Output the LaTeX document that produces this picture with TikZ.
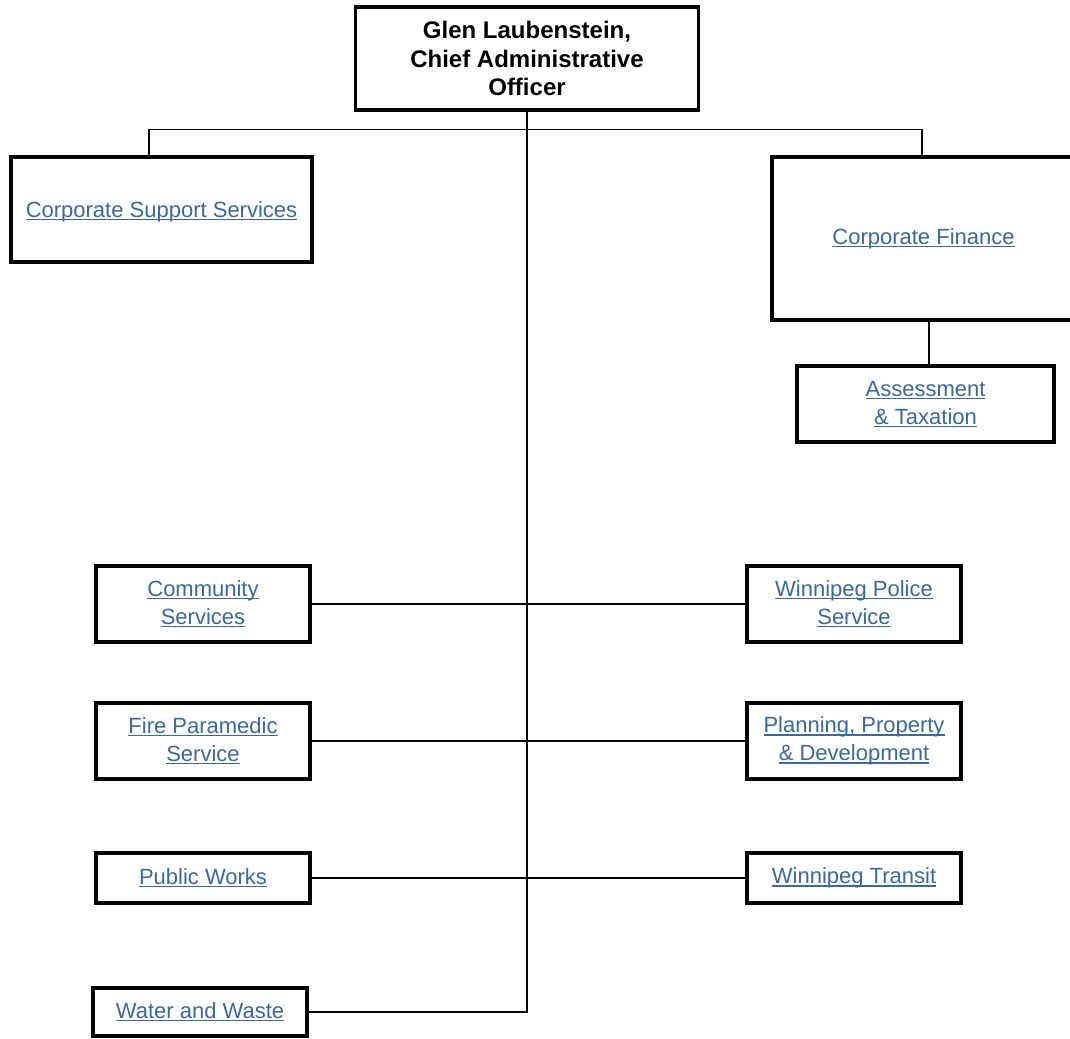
\documentclass[tikz,border=0pt]{standalone}
\usepackage{fontspec}
\setmainfont{Liberation Sans}
\definecolor{linkblue}{RGB}{58,104,160}
\newcommand\lnk[1]{\setbox0\hbox{#1}\rlap{\rule[-3pt]{\wd0}{1.2pt}}\box0}
\begin{document}
\begin{tikzpicture}[x=1pt,y=-1pt,
  box/.style={draw=black, line width=3.2pt, fill=white, inner sep=0pt, align=center,
    text=linkblue, font=\fontsize{22}{28}\selectfont},
  ceo/.style={box, text=black, font=\fontsize{24}{28.5}\selectfont\bfseries},
  conn/.style={draw=black, line width=1.3pt}]
\useasboundingbox (0,0) rectangle (1070,1038);
\clip (0,0) rectangle (1070,1038);
\node[ceo, minimum width=343pt, minimum height=103pt] (cao) at (527,58.5)
  {Glen Laubenstein,\\Chief Administrative\\Officer};
\node[box, minimum width=301pt, minimum height=105pt, text depth=0pt] (css) at (161.5,209.5)
  {\lnk{Corporate Support Services}};
\node[box, minimum width=303pt, minimum height=163pt] (cf) at (923.5,238.5)
  {\lnk{Corporate Finance}};
\node[box, minimum width=257pt, minimum height=76pt] (at) at (925.5,404)
  {\lnk{Assessment}\\\lnk{\& Taxation}};
\node[box, minimum width=214pt, minimum height=76pt] (cs) at (203,604)
  {\lnk{Community}\\\lnk{Services}};
\node[box, minimum width=214pt, minimum height=76pt] (wps) at (854,604)
  {\lnk{Winnipeg Police}\\\lnk{Service}};
\node[box, minimum width=214pt, minimum height=76pt] (fps) at (203,741)
  {\lnk{Fire Paramedic}\\\lnk{Service}};
\node[box, minimum width=214pt, minimum height=76pt] (ppd) at (854,741)
  {\lnk{Planning, Property}\\\lnk{\& Development}};
\node[box, minimum width=214pt, minimum height=50pt] (pw) at (203,878)
  {\lnk{Public Works}};
\node[box, minimum width=214pt, minimum height=50pt] (wt) at (854,878)
  {\lnk{Winnipeg Transit}};
\node[box, minimum width=214pt, minimum height=48pt] (ww) at (200,1012)
  {\lnk{Water and Waste}};
% connectors
\draw[conn] (cao.south) |- (ww.east);
\draw[conn] ([xshift=-12.5pt]css.north) -- ++(0,-26) -| ([xshift=-1.5pt]cf.north);
\draw[conn] ([xshift=3.5pt]at.north) -- ([xshift=3.5pt]at.north |- cf.south);
\draw[conn] (cs.east) -- (wps.west);
\draw[conn] (fps.east) -- (ppd.west);
\draw[conn] (pw.east) -- (wt.west);
\end{tikzpicture}
\end{document}
